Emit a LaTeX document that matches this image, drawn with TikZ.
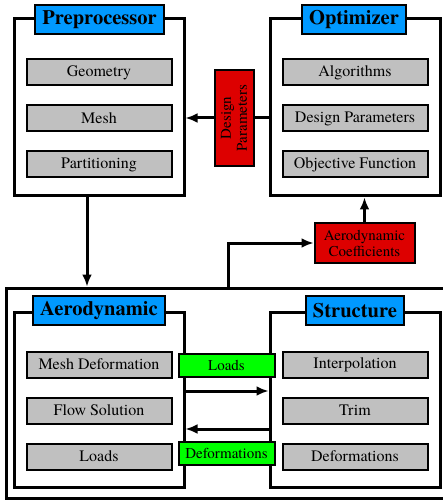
\documentclass[tikz,border=0pt]{standalone}
\usepackage{fontspec}
\setmainfont{texgyretermes}[Extension=.otf, UprightFont=*-regular, BoldFont=*-bold]
\usetikzlibrary{positioning,arrows.meta}
\definecolor{titleblue}{RGB}{0,153,255}
\definecolor{boxgray}{RGB}{192,192,192}
\definecolor{datared}{RGB}{221,0,0}
\definecolor{datagreen}{RGB}{0,255,0}
\tikzset{
  module/.style={draw, line width=3pt, minimum width=170pt, minimum height=177pt, inner sep=0pt},
  modtitle/.style={draw, line width=2pt, fill=titleblue, font=\bfseries\fontsize{20.5}{22}\selectfont, minimum height=29pt, inner xsep=7pt, inner ysep=0pt},
  taskbox/.style={draw, line width=2pt, fill=boxgray, font=\fontsize{16}{18}\selectfont, minimum width=145pt, minimum height=26pt, inner sep=0pt},
  databox/.style={draw, line width=2pt, font=\fontsize{15}{16}\selectfont, align=center, inner sep=0pt},
  arr/.style={line width=3pt, -{Latex[length=12pt,width=10pt]}},
  link/.style={line width=3pt},
}
\begin{document}
\begin{tikzpicture}[x=1pt,y=-1pt]
  \useasboundingbox[fill=white] (0,0) rectangle (443,502);
  % preprocessor
  \node[module] (pre) at (99,107.5) {};
  \node[modtitle] (pretitle) at (99.5,20) {Preprocessor};
  \node[taskbox] (geom) at (99,72.5) {Geometry};
  \node[taskbox, below=18pt of geom] (mesh) {Mesh};
  \node[taskbox, below=18pt of mesh] (part) {Partitioning};
  % optimizer
  \node[module] (opt) at (355,107.5) {};
  \node[modtitle] (opttitle) at (354,20) {Optimizer};
  \node[taskbox] (algo) at (355,72.5) {Algorithms};
  \node[taskbox, below=18pt of algo] (param) {Design Parameters};
  \node[taskbox, below=18pt of param] (objf) {Objective Function};
  % design parameters
  \node[databox, fill=datared, rotate=90, minimum width=96pt, minimum height=39pt] (dp) at (234,118) {Design\\Parameters};
  \draw[link] (opt.west |- dp.center) -- (dp);
  \draw[arr] (dp) -- (pre.east |- dp.center);
  % coupled solver
  \node[draw, line width=3pt, minimum width=440pt, minimum height=210pt] (coupled) at (226,393) {};
  \draw[arr] (pre.south -| 87,0) -- (coupled.north -| 87,0);
  % aerodynamic coefficients
  \node[databox, fill=datared, minimum width=100pt, minimum height=39pt] (coef) at (364.5,243) {Aerodynamic\\Coefficients};
  \draw[arr] (coupled.north -| 228,0) |- (coef.west);
  \draw[arr] (coef) -- (coef |- opt.south);
  % aerodynamic
  \node[module, minimum height=175pt] (aero) at (99,399.5) {};
  \node[modtitle] (aerotitle) at (aero.north) {Aerodynamic};
  \node[taskbox] (mdef) at (99,364.5) {Mesh Deformation};
  \node[taskbox, below=18pt of mdef] (flow) {Flow Solution};
  \node[taskbox, below=18pt of flow] (aload) {Loads};
  % structure
  \node[module, minimum height=175pt] (struct) at (355,399.5) {};
  \node[modtitle] (structtitle) at (struct.north) {Structure};
  \node[taskbox] (interp) at (355,364.5) {Interpolation};
  \node[taskbox, below=18pt of interp] (trim) {Trim};
  \node[taskbox, below=18pt of trim] (sdef) {Deformations};
  % transfer
  \draw[arr] (aero.east |- 0,391) -- (struct.west |- 0,391);
  \draw[arr] (struct.west |- 0,429) -- (aero.east |- 0,429);
  \node[databox, fill=datagreen, minimum width=96pt, minimum height=23pt] (loads) at (226.5,365) {Loads};
  \node[databox, fill=datagreen, minimum width=96pt, minimum height=23pt] (defs) at (226.5,453) {Deformations};
\end{tikzpicture}
\end{document}
